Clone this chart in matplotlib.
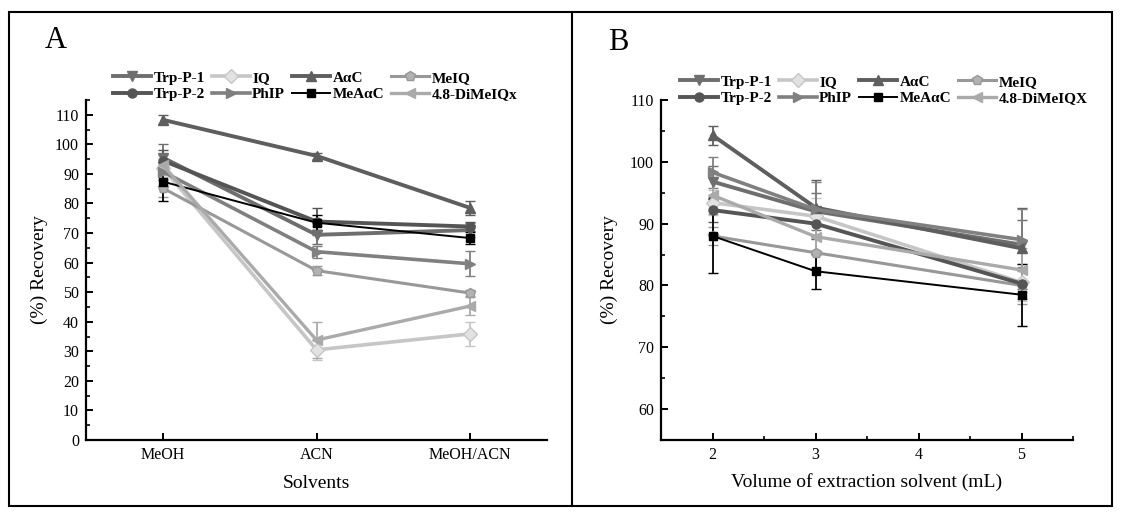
import matplotlib
matplotlib.use('Agg')
import matplotlib.pyplot as plt
from matplotlib.patches import Rectangle
from matplotlib.lines import Line2D
from matplotlib.ticker import MultipleLocator

plt.rcParams['font.family'] = ['Liberation Serif', 'DejaVu Serif']

# ---- data ----
solvents = ['MeOH', 'ACN', 'MeOH/ACN']
volumes = [2, 3, 5]

names_a = ['Trp-P-1', 'IQ', 'AαC', 'MeIQ', 'Trp-P-2', 'PhIP', 'MeAαC', '4.8-DiMeIQx']
names_b = ['Trp-P-1', 'IQ', 'AαC', 'MeIQ', 'Trp-P-2', 'PhIP', 'MeAαC', '4.8-DiMeIQX']

# panel A: recovery per solvent
trp1_a = [95.5, 69.4, 71.0]
iq_a = [92.0, 30.5, 35.9]
aac_a = [108.3, 96.1, 78.5]
meiq_a = [85.2, 57.3, 49.7]
trp2_a = [94.5, 73.9, 72.2]
phip_a = [90.8, 63.7, 59.6]
meaac_a = [87.4, 73.5, 68.3]
dimeiqx_a = [93.0, 33.8, 45.3]

trp1_a_err = [4.5, 3.0, 2.5]
iq_a_err = [3.0, 3.5, 4.0]
aac_a_err = [1.5, 1.0, 2.3]
meiq_a_err = [3.0, 1.5, 1.0]
trp2_a_err = [3.5, 4.6, 1.5]
phip_a_err = [3.0, 2.0, 4.2]
meaac_a_err = [6.6, 2.5, 2.0]
dimeiqx_a_err = [3.5, 6.2, 3.0]

# panel B: recovery per extraction volume
trp1_b = [96.8, 92.0, 86.6]
iq_b = [93.4, 91.2, 80.5]
aac_b = [104.3, 92.6, 86.0]
meiq_b = [88.0, 85.3, 80.0]
trp2_b = [92.2, 90.0, 80.3]
phip_b = [98.3, 92.3, 87.4]
meaac_b = [88.0, 82.3, 78.5]
dimeiqx_b = [94.6, 87.9, 82.5]

trp1_b_err = [2.5, 3.0, 4.0]
iq_b_err = [2.0, 3.0, 3.0]
aac_b_err = [1.5, 4.5, 6.5]
meiq_b_err = [1.5, 2.5, 3.0]
trp2_b_err = [2.0, 2.5, 2.5]
phip_b_err = [2.5, 4.5, 5.0]
meaac_b_err = [6.0, 2.8, 5.0]
dimeiqx_b_err = [3.0, 3.0, 3.5]

series_a = [trp1_a, iq_a, aac_a, meiq_a, trp2_a, phip_a, meaac_a, dimeiqx_a]
errs_a = [trp1_a_err, iq_a_err, aac_a_err, meiq_a_err, trp2_a_err, phip_a_err, meaac_a_err, dimeiqx_a_err]
series_b = [trp1_b, iq_b, aac_b, meiq_b, trp2_b, phip_b, meaac_b, dimeiqx_b]
errs_b = [trp1_b_err, iq_b_err, aac_b_err, meiq_b_err, trp2_b_err, phip_b_err, meaac_b_err, dimeiqx_b_err]

# ---- styles ----
colors = ['#6e6e6e', '#c6c6c6', '#5e5e5e', '#989898', '#555555', '#808080', '#000000', '#aaaaaa']
faces = ['#6e6e6e', '#e2e2e2', '#5e5e5e', '#b2b2b2', '#555555', '#808080', '#000000', '#aaaaaa']
markers = ['v', 'D', '^', 'p', 'o', '>', 's', '<']
widths = [2.8, 2.6, 2.8, 2.2, 2.8, 2.6, 1.4, 2.4]
sizes = [7, 7, 7, 7, 6.5, 7, 5.5, 7]

W, H = 1121, 512
fig = plt.figure(figsize=(W / 100, H / 100), dpi=100)

ax_a = fig.add_axes([86 / W, 1 - 440 / H, 461 / W, 340 / H])
ax_b = fig.add_axes([661 / W, 1 - 440 / H, 412 / W, 340 / H])


def draw(ax, xs, series, errs):
    handles = []
    for i in range(len(series)):
        ax.errorbar(xs, series[i], yerr=errs[i], color=colors[i], lw=widths[i],
                    elinewidth=1.3, capsize=3.5, capthick=1.3,
                    marker=markers[i], ms=sizes[i], mfc=faces[i], mec=colors[i], mew=1)
        h = Line2D([], [], color=colors[i], lw=widths[i], marker=markers[i], ms=sizes[i],
                   mfc=faces[i], mec=colors[i], mew=1)
        handles.append(h)
    return handles


def style(ax):
    for s in ['top', 'right']:
        ax.spines[s].set_visible(False)
    for s in ['left', 'bottom']:
        ax.spines[s].set_linewidth(1.6)
    ax.tick_params(which='major', direction='in', length=5, width=1.4, labelsize=11.5, pad=5)
    ax.tick_params(which='minor', direction='in', length=3, width=1.2)


# legend fills column by column; reorder so rows read like the original
order = [0, 4, 1, 5, 2, 6, 3, 7]

xa = list(range(len(solvents)))
h_a = draw(ax_a, xa, series_a, errs_a)
ax_a.set_xlim(-0.5, 2.5)
ax_a.set_ylim(0, 115)
ax_a.set_xticks(xa)
ax_a.set_xticklabels(solvents)
ax_a.yaxis.set_major_locator(MultipleLocator(10))
ax_a.yaxis.set_minor_locator(MultipleLocator(5))
style(ax_a)
ax_a.set_xlabel('Solvents', fontsize=14, labelpad=9)
ax_a.set_ylabel('(%) Recovery', fontsize=14, labelpad=5)

h_b = draw(ax_b, volumes, series_b, errs_b)
ax_b.set_xlim(1.5, 5.5)
ax_b.set_ylim(55, 110)
ax_b.set_xticks([2, 3, 4, 5])
ax_b.xaxis.set_minor_locator(MultipleLocator(0.5))
ax_b.yaxis.set_major_locator(MultipleLocator(10))
ax_b.yaxis.set_minor_locator(MultipleLocator(5))
style(ax_b)
ax_b.set_xlabel('Volume of extraction solvent (mL)', fontsize=14, labelpad=7)
ax_b.set_ylabel('(%) Recovery', fontsize=14, labelpad=9)

leg_args = dict(ncol=4, frameon=False, handlelength=2.5, handletextpad=0.15,
                columnspacing=0.45, labelspacing=0.2, borderpad=0, borderaxespad=0,
                prop={'weight': 'bold', 'size': 11}, loc='upper left')
fig.legend([h_a[k] for k in order], [names_a[k] for k in order],
           bbox_to_anchor=(113 / W, 1 - 71 / H), **leg_args)
fig.legend([h_b[k] for k in order], [names_b[k] for k in order],
           bbox_to_anchor=(680 / W, 1 - 75 / H), **leg_args)

fig.text(56 / W, 1 - 41 / H, 'A', fontsize=22, ha='center', va='center')
fig.text(618 / W, 1 - 42 / H, 'B', fontsize=22, ha='center', va='center')

# outer frame and divider
fig.add_artist(Rectangle((9 / W, 1 - 506 / H), (1112 - 9) / W, (506 - 12) / H,
                         transform=fig.transFigure, fill=False, lw=1.5, ec='black'))
fig.add_artist(Line2D([572 / W, 572 / W], [1 - 506 / H, 1 - 12 / H],
                      transform=fig.transFigure, color='black', lw=1.5))

fig.savefig('out.png', dpi=100)
